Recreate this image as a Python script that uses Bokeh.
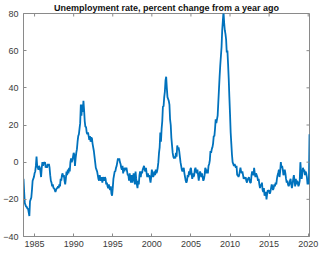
import pandas as pd
from bokeh.plotting import figure
from bokeh.models import Range1d, FixedTicker, ColumnDataSource
from bokeh.embed import file_html
from bokeh.resources import INLINE

title_text = "Unemployment rate, percent change from a year ago"
start_month = "1983-08"
values = (
    [-9, -16, -22, -23, -24] +                                   # 1983 Aug-Dec
    [-24, -25, -25, -27, -29, -21, -20, -19, -15, -10, -9, -8] +  # 1984
    [-6, -5, -2, 3, -2, -3, -4, -2, -3, -5, -8, -3] +             # 1985
    [0, -2, 0, -1, 0, -3, -2, -3, -1, -2, -1, -3] +               # 1986
    [-7, -10, -11, -13, -12, -14, -14, -15, -16, -15, -14, -14] + # 1987
    [-13, -14, -12, -13, -9, -10, -7, -6, -8, -7, -10, -12] +     # 1988
    [-9, -5, -7, -4, -6, -3, -5, 0, 2, 0, 1, 3] +                 # 1989
    [5, 4, -2, 2, 5, 7, 11, 14, 15, 18, 21, 31] +                 # 1990
    [25, 31, 27, 33, 28, 22, 19, 19, 16, 15, 16, 14] +            # 1991
    [12, 14, 11, 13, 13, 10, 8, 6, 3, 0, -3, -4] +                # 1992
    [-5, -7, -9, -10, -7, -9, -10, -8, -11, -9, -8, -10] +        # 1993
    [-8, -9, -12, -11, -13, -14, -12, -14, -15, -13, -17, -18] +  # 1994
    [-14, -9, -7, -5, -5, -3, -2, 0, 2, 1, 2, 0] +                # 1995
    [-1, -3, -4, -2, -6, -3, -5, -3, -4, -3, -5, -7] +            # 1996
    [-7, -10, -6, -9, -11, -7, -11, -9, -6, -9, -12, -5] +        # 1997
    [-9, -12, -14, -10, -12, -7, -5, -8, -5, -6, -4, -3] +        # 1998
    [-2, -4, -5, -3, -6, -8, -6, -8, -7, -9, -11, -8] +           # 1999
    [-4, -6, -8, -7, -5, -7, -4, -6, -5, -3, 0, 5] +              # 2000
    [8, 16, 11, 18, 22, 30, 30, 35, 38, 44, 46, 40] +             # 2001
    [35, 34, 33, 31, 23, 20, 13, 9, 5, 3, 2, 3] +                 # 2002
    [2, 5, 3, 9, 7, 8, 6, 3, 0, -2, -4, -5] +                     # 2003
    [-4, -3, -6, -8, -10, -11, -10, -7, -8, -5, -7, -4] +         # 2004
    [-3, -6, -9, -6, -8, -7, -4, -3, -5, -6, -4, -7] +            # 2005
    [-10, -7, -5, -6, -8, -6, -8, -10, -9, -7, -3, -4] +          # 2006
    [-6, -4, -6, -2, -1, 1, 6, 5, 7, 8, 10, 14] +                 # 2007
    [14, 18, 23, 21, 23, 25, 32, 39, 46, 52, 57, 62] +            # 2008
    [71, 76, 81, 75, 71, 69, 66, 59, 60, 53, 45, 35] +            # 2009
    [26, 16, 10, 4, 0, -1, -2, -1, -2, -3, -2, -7] +              # 2010
    [-7, -8, -7, -5, -3, -5, -6, -5, -7, -9, -8, -9] +            # 2011
    [-8, -10, -11, -9, -9, -8, -10, -11, -11, -7, -5, -6] +       # 2012
    [-7, -3, -6, -8, -6, -7, -8, -10, -9, -12, -14, -12] +        # 2013
    [-13, -11, -15, -16, -14, -18, -17, -16, -20, -17, -15, -16] +# 2014
    [-15, -17, -16, -14, -12, -13, -15, -14, -12, -13, -11, -12] +# 2015
    [-9, -7, -6, -4, -8, -5, 0, -3, -2, -4, -7, -6] +             # 2016
    [-4, -6, -9, -11, -10, -12, -13, -12, -10, -9, -12, -14] +    # 2017
    [-12, -9, -7, -10, -13, -9, -12, -10, -11, -13, -12, -10] +   # 2018
    [0, -5, -9, -6, -3, -5, -4, -7, -5, -6, -8, -12] +            # 2019
    [-9, -12, 15]                                                 # 2020 Jan-Mar
)
year_ticks = [1985, 1990, 1995, 2000, 2005, 2010, 2015, 2020]
y_ticks = [-40, -20, 0, 20, 40, 60, 80]

dates = pd.period_range(start=start_month, periods=len(values), freq="M")
t = [d.year + (d.month - 1) / 12 for d in dates]
src = ColumnDataSource(dict(t=t, v=values))

AX = "#8a8a8a"
LAB = "#3a3a3a"
FONT = "Liberation Sans"

x0, x1 = t[0], t[-1]
y0, y1 = y_ticks[0], y_ticks[-1]

p = figure(width=321, height=249, output_backend="svg", toolbar_location=None,
           x_range=Range1d(x0, x1), y_range=Range1d(y0, y1),
           min_border_left=17, min_border_right=12, min_border_top=6, min_border_bottom=11,
           title=title_text)
p.title.align = "center"
p.title.text_font = FONT
p.title.text_font_size = "9px"
p.title.text_font_style = "bold"
p.title.text_color = "#111111"
p.title.standoff = 1
p.title.offset = 0

p.outline_line_color = AX
p.outline_line_width = 1
p.xgrid.visible = False
p.ygrid.visible = False

p.line("t", "v", source=src, line_color="#0072BD", line_width=1.8)

p.xaxis.ticker = FixedTicker(ticks=year_ticks)
p.yaxis.ticker = FixedTicker(ticks=y_ticks)

for ax in [p.xaxis[0], p.yaxis[0]]:
    ax.axis_line_color = AX
    ax.major_tick_line_color = AX
    ax.major_tick_in = 3
    ax.major_tick_out = 0
    ax.minor_tick_line_color = None
    ax.major_label_text_font = FONT
    ax.major_label_text_font_size = "9px"
    ax.major_label_text_color = LAB
p.yaxis.major_label_standoff = 5
p.xaxis.major_label_standoff = 4

# inward ticks on the top and right edges of the box
p.scatter(x=year_ticks, y=[y1] * len(year_ticks), marker="dash", angle=1.5708,
          size=6, line_color=AX, line_width=1)
p.scatter(x=[x1] * len(y_ticks), y=y_ticks, marker="dash",
          size=6, line_color=AX, line_width=1)

open("out.html", "w").write(file_html(p, INLINE))
